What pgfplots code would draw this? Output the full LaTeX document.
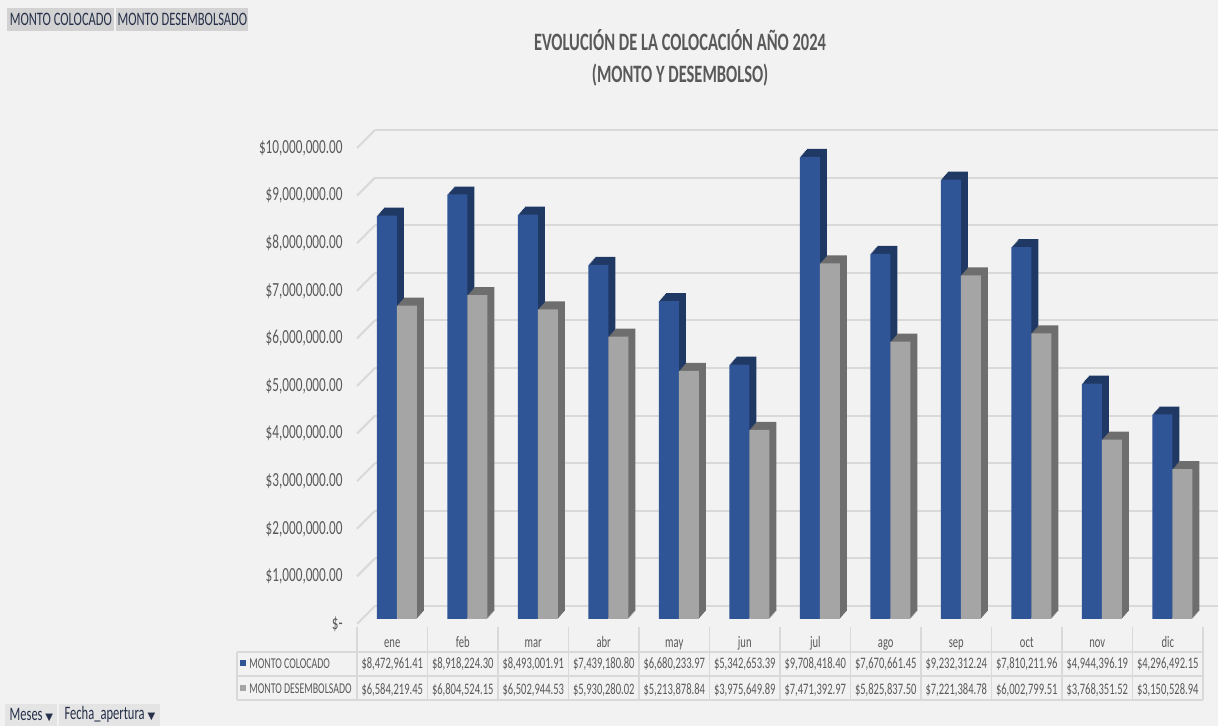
\documentclass[border=0pt]{standalone}
\usepackage{pgfplots}
\pgfplotsset{compat=1.18}
\usepackage{pgfplotstable}
\usepackage{fontspec}
\setmainfont{Carlito}[FakeStretch=0.66]
\newfontfamily\symfont{DejaVu Sans}

\definecolor{fondo}{HTML}{F2F2F2}
\definecolor{azul}{HTML}{2F5597}
\definecolor{azuloscuro}{HTML}{1F3864}
\definecolor{gris}{HTML}{A5A5A5}
\definecolor{grisoscuro}{HTML}{6E6E6E}
\definecolor{rejilla}{HTML}{D9D9D9}
\definecolor{texto}{HTML}{595959}
\definecolor{boton}{HTML}{D2D2D2}
\definecolor{botonb}{HTML}{E4E4E4}
\definecolor{textobtn}{HTML}{26304A}

% montos mensuales 2024
\pgfplotstableread{
idx colocado desembolsado
0 8472961.41 6584219.45
1 8918224.30 6804524.15
2 8493001.91 6502944.53
3 7439180.80 5930280.02
4 6680233.97 5213878.84
5 5342653.39 3975649.89
6 9708418.40 7471392.97
7 7670661.45 5825837.50
8 9232312.24 7221384.78
9 7810211.96 6002799.51
10 4944396.19 3768351.52
11 4296492.15 3150528.94
}\datos

\newcommand\fila[3]{\strut#1\\\$#2\\[2.5bp]\$#3}

\begin{document}
\begin{tikzpicture}
\fill[fondo] (0,0) rectangle (609bp,363bp);
\useasboundingbox (0,0) rectangle (609bp,363bp);

% botones del filtro
\node[fill=boton, minimum width=53.5bp, minimum height=11.5bp, anchor=south west, inner sep=0pt,
  text=textobtn, font=\fontsize{9.5bp}{11bp}\selectfont] at (3.5bp,347.5bp) {MONTO COLOCADO};
\node[fill=boton, minimum width=66bp, minimum height=11.5bp, anchor=south west, inner sep=0pt,
  text=textobtn, font=\fontsize{9.5bp}{11bp}\selectfont] at (58bp,347.5bp) {MONTO DESEMBOLSADO};
\node[fill=botonb, minimum width=26bp, minimum height=11bp, anchor=south west, inner sep=0pt,
  text=textobtn, font=\fontsize{9.5bp}{11bp}\selectfont] at (2.5bp,0bp) {Meses {\symfont\fontsize{5bp}{6bp}\selectfont ▼}};
\node[fill=botonb, minimum width=50.5bp, minimum height=11bp, anchor=south west, inner sep=0pt,
  text=textobtn, font=\fontsize{9.5bp}{11bp}\selectfont] at (29.5bp,0bp) {Fecha\_apertura {\symfont\fontsize{5bp}{6bp}\selectfont ▼}};

% titulo
\node[text=texto, font=\bfseries\fontsize{12.5bp}{16bp}\selectfont, align=center] at (340bp,334bp)
  {EVOLUCIÓN DE LA COLOCACIÓN AÑO 2024\\(MONTO Y DESEMBOLSO)};

\begin{axis}[
  at={(178.5bp,51bp)}, anchor=south west,
  scale only axis, width=423bp, height=238bp,
  xmin=-0.5, xmax=11.5, ymin=0, ymax=10000000,
  clip=false,
  axis line style={draw=none},
  major tick length=0pt,
  scaled y ticks=false,
  ybar, bar width=10bp,
  ymajorgrids,
  major grid style={draw=rejilla, line width=1bp, xshift=9bp, yshift=9bp},
  ytick={0,1000000,2000000,3000000,4000000,5000000,6000000,7000000,8000000,9000000,10000000},
  yticklabels={{\$-\hspace{3bp}},{\$1,000,000.00},{\$2,000,000.00},{\$3,000,000.00},{\$4,000,000.00},
    {\$5,000,000.00},{\$6,000,000.00},{\$7,000,000.00},{\$8,000,000.00},{\$9,000,000.00},{\$10,000,000.00}},
  yticklabel style={font=\fontsize{10bp}{12bp}\selectfont, text=texto, xshift=-3.7bp},
  xtick={0,...,11},
  xticklabels={
    {\fila{ene}{8,472,961.41}{6,584,219.45}},
    {\fila{feb}{8,918,224.30}{6,804,524.15}},
    {\fila{mar}{8,493,001.91}{6,502,944.53}},
    {\fila{abr}{7,439,180.80}{5,930,280.02}},
    {\fila{may}{6,680,233.97}{5,213,878.84}},
    {\fila{jun}{5,342,653.39}{3,975,649.89}},
    {\fila{jul}{9,708,418.40}{7,471,392.97}},
    {\fila{ago}{7,670,661.45}{5,825,837.50}},
    {\fila{sep}{9,232,312.24}{7,221,384.78}},
    {\fila{oct}{7,810,211.96}{6,002,799.51}},
    {\fila{nov}{4,944,396.19}{3,768,351.52}},
    {\fila{dic}{4,296,492.15}{3,150,528.94}}},
  xticklabel style={font=\fontsize{8bp}{10.5bp}\selectfont, text=texto, align=center,
    anchor=north, inner sep=0pt, yshift=-4bp},
  every axis plot/.append style={yshift=2.5bp},
]
% caras laterales y superiores: copias desplazadas
\pgfplotsinvokeforeach{1,...,7}{
  \addplot[fill=azuloscuro, draw=none, bar shift=-2.75bp, xshift=#1*0.5bp, yshift=#1*0.57bp, forget plot]
    table[x=idx, y=colocado]{\datos};
}
\addplot[fill=azul, draw=none, bar shift=-2.75bp] table[x=idx, y=colocado]{\datos};
\pgfplotsinvokeforeach{1,...,7}{
  \addplot[fill=grisoscuro, draw=none, bar shift=7.25bp, xshift=#1*0.5bp, yshift=#1*0.57bp, forget plot]
    table[x=idx, y=desembolsado]{\datos};
}
\addplot[fill=gris, draw=none, bar shift=7.25bp] table[x=idx, y=desembolsado]{\datos};

\pgfplotsinvokeforeach{0,...,10}{
  \draw[rejilla, line width=1bp] (axis cs:-0.5,#1000000) -- ++(9bp,9bp);
}
\end{axis}

% tabla de datos
\foreach \k in {0,...,12} {
  \draw[rejilla, line width=0.8bp] ({178.5bp+\k*35.25bp},49.5bp) -- ({178.5bp+\k*35.25bp},13bp);
}
\draw[rejilla, line width=0.8bp] (118.5bp,37bp) -- (118.5bp,13bp);
\foreach \y in {37,25,13} {
  \draw[rejilla, line width=0.8bp] (118.5bp,\y bp) -- (601.5bp,\y bp);
}
\fill[azul] (120bp,30bp) rectangle (123bp,33bp);
\fill[gris] (120bp,17.5bp) rectangle (123bp,20.5bp);
\node[anchor=west, inner sep=0pt, text=texto, font=\fontsize{7.5bp}{10bp}\selectfont] at (124.5bp,31.3bp) {MONTO COLOCADO};
\node[anchor=west, inner sep=0pt, text=texto, font=\fontsize{7.5bp}{10bp}\selectfont] at (124.5bp,18.8bp) {MONTO DESEMBOLSADO};
\end{tikzpicture}
\end{document}
